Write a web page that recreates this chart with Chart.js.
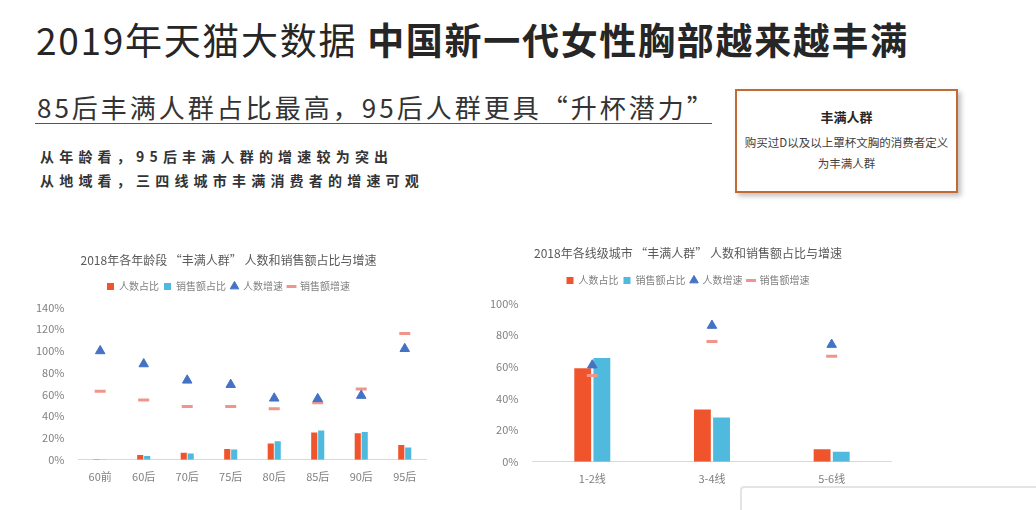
<!DOCTYPE html>
<html>
<head>
<meta charset="utf-8">
<script src="https://cdn.jsdelivr.net/npm/chart.js@4.4.1/dist/chart.umd.min.js"></script>
<style>
  html, body { margin: 0; padding: 0; background: #fff; }
  body { width: 1036px; height: 510px; position: relative; overflow: hidden;
         font-family: "Noto Sans CJK SC", "Noto Sans", sans-serif; color: #262626; }
  .title { position: absolute; left: 36px; top: 12px; font-size: 37px; letter-spacing: 1.7px; white-space: nowrap; }
  .title b { font-weight: 700; }
  .sub { position: absolute; left: 37px; top: 88px; font-size: 26px; letter-spacing: 3px; white-space: nowrap; color: #333; }
  .rule { position: absolute; left: 35px; top: 123px; width: 677px; height: 1px; background: #555; }
  .pt { position: absolute; left: 40px; font-size: 14px; font-weight: 700; letter-spacing: 5.2px; color: #333; white-space: nowrap; }
  .box { position: absolute; left: 735px; top: 89px; width: 219px; height: 100px; border: 2px solid #c06a35;
         box-shadow: 3px 3px 5px rgba(0,0,0,0.25); text-align: center; color: #404040; }
  .box .h { font-size: 13px; font-weight: 700; margin-top: 16px; color: #262626; }
  .box .t { font-size: 11.5px; line-height: 21px; margin-top: 6px; }
  .chart { position: absolute; }
  .edge { position: absolute; left: 740px; top: 486px; width: 300px; height: 30px; border-top: 2px solid #e4e4e4;
          border-left: 2px solid #e4e4e4; border-top-left-radius: 4px; }
</style>
</head>
<body>
<div class="title">2019年天猫大数据 <b>中国新一代女性胸部越来越丰满</b></div>
<div class="sub">85后丰满人群占比最高，95后人群更具“升杯潜力”</div>
<div class="rule"></div>
<div class="pt" style="top:146px">从年龄看，95后丰满人群的增速较为突出</div>
<div class="pt" style="top:170px">从地域看，三四线城市丰满消费者的增速可观</div>
<div class="box">
  <div class="h">丰满人群</div>
  <div class="t">购买过D以及以上罩杯文胸的消费者定义<br>为丰满人群</div>
</div>
<div class="edge"></div>

<div class="chart" style="left:30px; top:249px; width:405px; height:236px"><canvas id="ageChart"></canvas></div>
<div class="chart" style="left:484px; top:242px; width:416px; height:245px"><canvas id="cityChart"></canvas></div>

<script>
// 年龄段
const ageLabels = ['60前', '60后', '70后', '75后', '80后', '85后', '90后', '95后'];
const agePeopleShare = [0.5, 4.5, 6.4, 10, 15, 25, 24.5, 13.7];
const ageSalesShare = [0.3, 3.4, 5.8, 9.5, 17, 27, 25.6, 11.3];
const agePeopleGrowth = [100, 88, 73, 69, 56.5, 56, 59, 102];
const ageSalesGrowth = [63, 55, 49, 49, 47, 52.5, 65, 116];
const ageTicks = [0, 20, 40, 60, 80, 100, 120, 140];

// 城市线级
const cityLabels = ['1-2线', '3-4线', '5-6线'];
const cityPeopleShare = [59, 33, 8];
const citySalesShare = [65.6, 28, 6.3];
const cityPeopleGrowth = [61, 86, 74];
const citySalesGrowth = [54.5, 76, 66.7];
const cityTicks = [0, 20, 40, 60, 80, 100];

const seriesNames = ['人数占比', '销售额占比', '人数增速', '销售额增速'];
const ORANGE = '#f0542c';
const BLUE = '#4fbadd';
const TRI = '#4472c4';
const DASH = '#f0958c';
const GREY = '#808080';
const FONT = '"Noto Sans CJK SC", "Noto Sans", sans-serif';

// espacio extra entre la leyenda y el área del gráfico
const legendGap = {
    id: 'legendGap',
    beforeInit(chart, args, opts) {
        const fit = chart.legend.fit;
        chart.legend.fit = function () {
            fit.bind(chart.legend)();
            this.height += opts.gap || 0;
        };
    }
};

function buildChart(id, title, labels, people, sales, pGrowth, sGrowth, ticks, titlePad, gap) {
    const ctx = document.getElementById(id);
    return new Chart(ctx, {
        type: 'bar',
        data: {
            labels: labels,
            datasets: [
                { label: seriesNames[0], data: people, backgroundColor: ORANGE, order: 2,
                  categoryPercentage: 0.32, barPercentage: 0.88, pointStyle: 'rect' },
                { label: seriesNames[1], data: sales, backgroundColor: BLUE, order: 2,
                  categoryPercentage: 0.32, barPercentage: 0.88, pointStyle: 'rect' },
                { label: seriesNames[2], type: 'line', data: pGrowth, showLine: false, order: 1,
                  pointStyle: 'triangle', pointRadius: 5.5, backgroundColor: TRI, borderColor: TRI, borderWidth: 1 },
                { label: seriesNames[3], type: 'line', data: sGrowth, showLine: false, order: 1,
                  pointStyle: 'line', pointRadius: 5.5, borderColor: DASH, backgroundColor: DASH, borderWidth: 3 }
            ]
        },
        plugins: [legendGap],
        options: {
            responsive: true,
            maintainAspectRatio: false,
            animation: false,
            layout: { padding: { left: 0, right: 8, top: 0, bottom: 0 } },
            plugins: {
                tooltip: { enabled: false },
                legendGap: { gap: gap },
                title: { display: true, text: title, color: '#595959',
                         font: { family: FONT, size: 12, weight: 'normal' }, padding: { top: 4, bottom: titlePad } },
                legend: {
                    labels: { usePointStyle: true, boxWidth: 7, boxHeight: 7, padding: 5,
                              color: GREY, font: { family: FONT, size: 10 },
                              sort: (a, b) => a.datasetIndex - b.datasetIndex }
                }
            },
            scales: {
                x: {
                    grid: { display: false },
                    border: { color: '#d9d9d9' },
                    ticks: { color: GREY, font: { family: FONT, size: 11 }, padding: 2 }
                },
                y: {
                    min: ticks[0], max: ticks[ticks.length - 1],
                    afterBuildTicks: axis => { axis.ticks = ticks.map(v => ({ value: v })); },
                    grid: { display: false },
                    border: { display: false },
                    ticks: { color: GREY, font: { family: FONT, size: 11 }, padding: 6,
                             callback: v => v + '%' }
                }
            }
        }
    });
}

buildChart('ageChart', '2018年各年龄段 “丰满人群” 人数和销售额占比与增速',
    ageLabels, agePeopleShare, ageSalesShare, agePeopleGrowth, ageSalesGrowth, ageTicks, 9, 6);
buildChart('cityChart', '2018年各线级城市 “丰满人群” 人数和销售额占比与增速',
    cityLabels, cityPeopleShare, citySalesShare, cityPeopleGrowth, citySalesGrowth, cityTicks, 10, 8);
</script>
</body>
</html>
